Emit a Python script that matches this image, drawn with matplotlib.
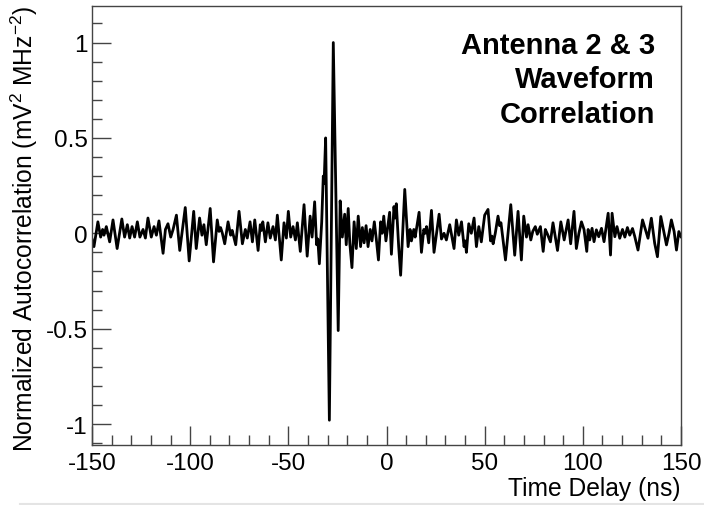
import matplotlib
matplotlib.use('Agg')
import matplotlib.pyplot as plt
from matplotlib.ticker import MultipleLocator, FuncFormatter
from matplotlib.lines import Line2D

plt.rcParams['font.family'] = ['Liberation Sans', 'DejaVu Sans']
plt.rcParams['axes.unicode_minus'] = False
plt.rcParams['mathtext.default'] = 'regular'

# ---- data (time delay in ns, normalized correlation) ----
time_ns = [
    # -150 .. -102
    -150.0, -149.0, -147.0, -145.6, -144.6, -143.9, -142.7, -141.0, -139.3, -137.2,
    -134.8, -133.4, -132.0, -130.8, -129.6, -128.3, -126.9, -125.6, -124.0, -122.8,
    -121.5, -119.8, -118.4, -117.2, -115.9, -113.8, -112.6, -111.3, -109.9, -108.7,
    -107.0, -105.3, -102.5,
    # -100 .. -51
    -100.5, -98.2, -96.9, -95.2, -94.0, -93.0, -91.8, -89.8, -88.1, -86.2,
    -85.3, -84.5, -83.6, -82.4, -80.7, -79.4, -78.6, -76.8, -75.1, -73.4,
    -71.9, -70.9, -69.5, -68.3, -67.1, -65.4, -64.3, -63.7, -63.0, -61.7,
    -60.4, -59.2, -57.8, -56.6, -55.6, -53.6, -52.2, -51.0,
    # -50 .. -34
    -50.0, -48.8, -47.6, -46.4, -45.4, -43.9, -42.0, -40.4, -38.9, -37.9,
    -36.6, -35.6, -35.0, -34.2,
    # main pulse
    -33.0, -32.2, -31.8, -31.0, -29.1, -27.1, -24.6, -23.6,
    # -22 .. 9
    -22.5, -21.3, -20.5, -19.5, -18.7, -17.6, -16.5, -15.4, -14.4, -13.2,
    -12.3, -11.4, -10.4, -9.4, -8.3, -7.4, -6.2, -5.2, -4.1, -3.0,
    -2.2, -1.4, -0.3, 1.6, 2.5, 3.8, 4.4, 5.0, 6.2, 7.2, 9.3,
    # 11 .. 50
    11.0, 12.0, 12.7, 13.9, 14.6, 16.6, 17.8, 19.0, 19.7, 20.4,
    21.5, 22.9, 24.2, 26.8, 28.0, 29.3, 30.5, 32.2, 34.4, 35.6,
    36.8, 38.2, 39.5, 40.1, 40.7, 41.9, 43.2, 44.6, 45.8, 47.0,
    48.3, 50.0,
    # 51 .. 102
    51.7, 53.0, 53.7, 54.3, 55.4, 56.8, 57.6, 58.3, 60.6, 63.3,
    65.3, 67.0, 68.7, 69.9, 71.3, 72.1, 73.5, 74.5, 75.8, 76.8,
    78.4, 79.8, 80.9, 82.0, 83.5, 84.8, 87.1, 88.8, 90.5, 92.5,
    93.8, 95.5, 96.7, 98.0, 99.3, 100.6, 102.0,
    # 102 .. 150
    102.7, 103.5, 104.7, 105.7, 106.9, 108.1, 109.5, 110.8, 112.9, 114.1,
    114.9, 116.3, 117.4, 118.8, 120.2, 121.4, 122.7, 123.9, 125.3, 126.4,
    128.1, 130.4, 131.9, 133.2, 134.9, 136.6, 138.0, 139.7, 141.4, 142.6,
    143.9, 145.1, 146.5, 147.7, 148.9, 150.0,
]

correlation = [
    -0.03, -0.07, 0.06, -0.02, 0.02, -0.01, 0.035, -0.045, 0.07, -0.08,
    0.075, -0.02, 0.045, -0.025, 0.035, -0.02, 0.06, -0.02, 0.02, -0.025,
    0.08, -0.02, 0.035, -0.01, 0.065, -0.105, 0.02, 0.05, -0.02, 0.02,
    0.095, -0.09, 0.135,
    -0.145, 0.115, -0.08, 0.08, -0.01, 0.045, -0.06, 0.13, -0.15, 0.07,
    0.01, 0.03, 0.0, -0.055, 0.06, -0.01, 0.015, -0.06, 0.115, -0.055,
    0.02, -0.025, 0.06, -0.045, 0.07, -0.09, 0.045, 0.015, 0.06, -0.045,
    0.055, -0.025, 0.035, -0.035, 0.095, -0.14, 0.055, -0.025,
    0.115, -0.02, 0.035, -0.035, 0.055, -0.095, 0.15, -0.12, 0.09, -0.02,
    0.165, -0.06, -0.03, -0.16,
    0.06, 0.30, 0.26, 0.50, -0.98, 1.00, -0.51, 0.17,
    -0.02, 0.10, -0.06, 0.13, -0.05, -0.18, 0.06, -0.08, 0.09, -0.07,
    0.03, -0.05, 0.04, -0.07, 0.02, -0.04, 0.06, -0.03, -0.14, 0.06,
    0.00, 0.09, -0.04, 0.11, -0.11, 0.14, 0.08, 0.155, -0.07, -0.22, 0.23,
    -0.07, 0.02, -0.04, 0.02, -0.02, 0.11, -0.10, 0.02, 0.0, 0.035,
    -0.05, 0.12, -0.10, 0.10, -0.03, 0.0, -0.035, 0.045, -0.08, 0.07,
    -0.01, 0.06, -0.07, -0.04, -0.10, 0.05, 0.0, 0.08, -0.07, 0.035,
    -0.045, 0.095,
    0.125, -0.04, -0.015, -0.055, 0.0, 0.09, 0.04, 0.055, -0.14, 0.15,
    -0.115, 0.115, -0.14, 0.09, -0.02, 0.045, -0.035, 0.01, 0.035, -0.005,
    0.035, -0.095, 0.02, -0.005, -0.045, 0.055, -0.09, 0.06, -0.035, 0.07,
    -0.055, 0.115, -0.08, 0.0, 0.06, 0.02, -0.095,
    0.02, -0.035, 0.026, -0.044, 0.018, -0.018, 0.026, -0.044, 0.105, -0.114,
    0.105, -0.018, 0.035, -0.026, 0.02, -0.02, 0.03, -0.01, 0.025, -0.015,
    -0.088, 0.07, 0.018, -0.026, 0.079, -0.053, -0.123, 0.088, 0.0, -0.061,
    0.0, 0.07, 0.009, -0.088, 0.009, -0.018,
]

x_ticks = [-150, -100, -50, 0, 50, 100, 150]
y_ticks = [-1, -0.5, 0, 0.5, 1]
title_lines = ['Antenna 2 & 3', 'Waveform', 'Correlation']
x_label = 'Time Delay (ns)'
y_label = r'Normalized Autocorrelation (mV$^{2}$ MHz$^{-2}$)'

W, H = 704, 506
fig = plt.figure(figsize=(W / 100, H / 100), dpi=100)
left, right, top, bottom = 92, 681, 7.3, 446
ax = fig.add_axes([left / W, 1 - bottom / H, (right - left) / W, (bottom - top) / H])

ax.plot(time_ns, correlation, color='black', lw=2.0)

ax.set_xlim(-150, 150)
ax.set_ylim(-1.11, 1.19)
ax.set_xticks(x_ticks)
ax.set_yticks(y_ticks)
ax.xaxis.set_minor_locator(MultipleLocator(10))
ax.yaxis.set_minor_locator(MultipleLocator(0.1))
fmt = FuncFormatter(lambda v, p: '%g' % v)
ax.xaxis.set_major_formatter(fmt)
ax.yaxis.set_major_formatter(fmt)

ax.tick_params(which='both', direction='in', top=False, right=False,
               color='#444444', labelsize=17.5, labelcolor='black')
ax.tick_params(axis='x', which='major', length=14, width=1, pad=5)
ax.tick_params(axis='y', which='major', length=14, width=1, pad=3)
ax.tick_params(which='minor', length=7, width=1)
for s in ax.spines.values():
    s.set_color('#444444')
    s.set_linewidth(1.0)

fig.text(24 / W, 1 - 6 / H, y_label, rotation=90, ha='center', va='top', fontsize=17.7)
fig.text(right / W, 1 - 496 / H, x_label, ha='right', va='baseline', fontsize=17.7)

for i, line in enumerate(title_lines):
    fig.text(655 / W, 1 - (54 + 34.5 * i) / H, line, ha='right', va='baseline',
             fontsize=21, fontweight='bold')

fig.add_artist(Line2D([20 / W, 1], [1 - 504.5 / H] * 2, color='#e4e4e4', lw=1.5))

fig.savefig('out.png', dpi=100)
